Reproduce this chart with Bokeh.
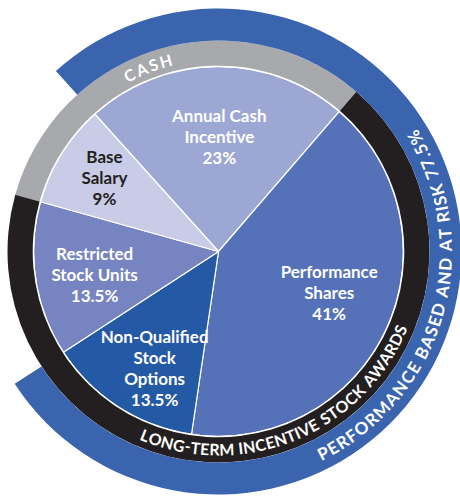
import math
from bokeh.plotting import figure
from bokeh.models import ColumnDataSource, Range1d
from bokeh.core.properties import value
from bokeh.embed import file_html
from bokeh.resources import INLINE

# ---- data ----
categories = ["Annual Cash Incentive", "Performance Shares", "Non-Qualified Stock Options",
              "Restricted Stock Units", "Base Salary"]
label_lines = [["Annual Cash", "Incentive"], ["Performance", "Shares"],
               ["Non-Qualified", "Stock", "Options"], ["Restricted", "Stock Units"],
               ["Base", "Salary"]]
values = [23, 41, 13.5, 13.5, 9]
pay_type = ["CASH", "LTI", "LTI", "LTI", "CASH"]
at_risk = [True, True, True, False, False]
ring_titles = {"CASH": "CASH", "LTI": "LONG-TERM INCENTIVE STOCK AWARDS"}
risk_title = "PERFORMANCE BASED AND AT RISK"

# ---- style ----
slice_colors = ["#9DA7D3", "#5571B8", "#2459A6", "#7684C1", "#C8CCE6"]
label_colors = ["white", "white", "white", "white", "#231F20"]
ring_colors = {"CASH": "#A7A9AC", "LTI": "#231F20"}
risk_color = "#3B64AF"
FONT = "Lato"

R_PIE, R_RING, R_OUT = 185, 211, 243
TOP = 132.0  # angle (deg) where the first slice begins, going clockwise

p = figure(width=460, height=496, output_backend="svg", toolbar_location=None,
           x_range=Range1d(-218, 242), y_range=Range1d(-245, 251),
           min_border=0, outline_line_color=None, match_aspect=False)
p.axis.visible = False
p.grid.visible = False
p.background_fill_color = "white"
p.border_fill_color = "white"

# slice angles (clockwise order)
total = sum(values)
starts, ends = [], []
cum = 0.0
for v in values:
    e = TOP - cum / total * 360
    s = TOP - (cum + v) / total * 360
    starts.append(s)
    ends.append(e)
    cum += v

src = ColumnDataSource(dict(start=[math.radians(s) for s in starts],
                            end=[math.radians(e) for e in ends],
                            color=slice_colors))
p.wedge(x=0, y=0, radius=R_PIE, start_angle="start", end_angle="end",
        fill_color="color", line_color="white", line_width=1.2, source=src)
p.circle(x=0, y=0, radius=R_PIE, fill_color=None, line_color="white", line_width=1.5)

n = len(values)


def group_arc(members):
    first = [i for i in members if (i - 1) % n not in members][0]
    last = [i for i in members if (i + 1) % n not in members][0]
    s = starts[last]
    e = ends[first]
    span = (e - s) % 360
    return s, s + span


# outer ring (cash / LTI)
for g in ["CASH", "LTI"]:
    members = [i for i in range(n) if pay_type[i] == g]
    s, e = group_arc(members)
    p.annular_wedge(x=0, y=0, inner_radius=R_PIE + 0.8, outer_radius=R_RING,
                    start_angle=math.radians(s), end_angle=math.radians(e),
                    fill_color=ring_colors[g], line_color=None)

# at-risk arc
risk_members = [i for i in range(n) if at_risk[i]]
rs, re_ = group_arc(risk_members)
risk_pct = sum(values[i] for i in risk_members)
p.annular_wedge(x=0, y=0, inner_radius=R_RING, outer_radius=R_OUT,
                start_angle=math.radians(rs), end_angle=math.radians(re_),
                fill_color=risk_color, line_color=None)

# ---- slice labels ----
label_radius = [115, 118, 133, 126, 136]
label_shift = [-1, 4.3, 4, 1.8, -1.2]
LH = 21
lx, ly, lt, lc = [], [], [], []
for i in range(n):
    mid = math.radians((starts[i] + ends[i]) / 2 + label_shift[i])
    cx = label_radius[i] * math.cos(mid)
    cy = label_radius[i] * math.sin(mid)
    lines = label_lines[i] + [f"{values[i]:g}%"]
    k = len(lines)
    for j, t in enumerate(lines):
        lx.append(cx)
        ly.append(cy + LH * ((k - 1) / 2 - j))
        lt.append(t)
        lc.append(label_colors[i])
p.text(x=lx, y=ly, text=lt, text_color=lc, text_align="center", text_baseline="middle",
       text_font=value(FONT), text_font_style="bold", text_font_size="17px")

# ---- curved text ----
W = {'A': .68, 'B': .62, 'C': .66, 'D': .72, 'E': .56, 'F': .54, 'G': .72, 'H': .74,
     'I': .28, 'J': .40, 'K': .64, 'L': .52, 'M': .86, 'N': .74, 'O': .78, 'P': .60,
     'Q': .78, 'R': .62, 'S': .54, 'T': .58, 'U': .72, 'V': .66, 'W': .96, 'X': .64,
     'Y': .62, 'Z': .60, ' ': .28, '-': .36, '.': .26, '%': .80}


def curved(text, center_deg, radius, span_deg, clockwise, size, color):
    widths = [W.get(c, .58) for c in text]
    tot = sum(widths)
    xs, ys, rots = [], [], []
    acc = 0.0
    for c, w in zip(text, widths):
        frac = (acc + w / 2) / tot - 0.5
        acc += w
        if clockwise:
            th = center_deg - frac * span_deg
            rot = th - 90
        else:
            th = center_deg + frac * span_deg
            rot = th + 90
        xs.append(radius * math.cos(math.radians(th)))
        ys.append(radius * math.sin(math.radians(th)))
        rots.append(math.radians(rot))
    p.text(x=xs, y=ys, text=list(text), angle=rots, text_color=color,
           text_align="center", text_baseline="middle", text_font=value(FONT),
           text_font_style="bold", text_font_size=size)


curved(ring_titles["CASH"], 111, 198, 15.5, True, "16px", "white")
curved(ring_titles["LTI"], 292.5, 197.5, 91, False, "16px", "white")
curved(f"{risk_title} {risk_pct:g}%", 344, 227, 96, False, "17px", "white")

open("out.html", "w").write(file_html(p, INLINE))
